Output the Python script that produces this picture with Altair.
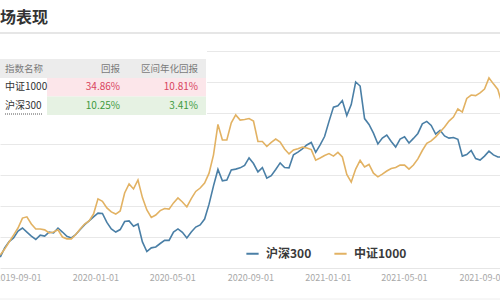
import altair as alt
import pandas as pd

FONT = "Noto Sans CJK SC"

# ---- data ----
dates = pd.date_range("2019-08-04", periods=114, freq="7D").strftime("%Y-%m-%d").tolist()

hs300 = [3.5, 6.5, 8.5, 9.7, 11.9, 12.9, 11.6, 10.3, 9.2, 10.6,
         10.3, 11.6, 11.3, 12.9, 11.6, 10.2, 9.7, 10.8, 12.4, 14.0,
         15.2, 16.5, 17.7, 17.6, 14.7, 12.6, 11.6, 12.4, 15.0, 15.2,
         13.5, 14.2, 8.4, 5.3, 6.5, 6.8, 7.9, 8.9, 8.9, 11.6,
         12.6, 11.5, 9.7, 11.6, 13.2, 13.9, 15.8, 20.6, 26.5, 31.8,
         28.1, 28.4, 31.6, 31.9, 32.3, 33.1, 35.5, 33.7, 31.0, 32.4,
         29.0, 29.8, 31.8, 33.9, 32.4, 32.3, 36.5, 37.4, 38.4, 39.7,
         40.5, 37.3, 39.7, 42.4, 47.3, 51.9, 52.3, 54.0, 49.2, 52.7,
         60.0, 58.7, 48.2, 46.3, 43.5, 40.0, 41.9, 42.9, 40.8, 39.0,
         41.6, 42.3, 40.3, 41.8, 43.4, 46.5, 47.3, 46.0, 43.2, 44.4,
         42.6, 41.9, 42.1, 41.5, 36.1, 36.6, 37.9, 35.3, 34.8, 36.1,
         37.7, 36.5, 35.8, 35.8]

zz1000 = [4.2, 6.1, 8.4, 10.6, 12.9, 16.1, 16.5, 14.2, 12.6, 12.6,
          12.3, 11.3, 11.6, 12.3, 10.0, 9.4, 9.4, 10.8, 12.6, 14.2,
          15.2, 17.4, 22.3, 21.5, 19.4, 18.1, 17.4, 18.4, 24.2, 27.1,
          25.5, 28.4, 22.7, 18.7, 16.3, 17.1, 18.5, 19.2, 19.0, 21.0,
          22.6, 21.3, 19.7, 22.4, 24.7, 25.8, 27.4, 30.6, 36.5, 46.3,
          41.3, 41.3, 46.8, 49.4, 47.7, 47.9, 48.2, 47.4, 40.8, 40.8,
          39.2, 40.5, 41.6, 40.6, 38.4, 36.8, 38.1, 38.5, 39.0, 38.7,
          38.2, 34.8, 35.5, 36.3, 36.9, 36.1, 37.3, 35.8, 30.2, 27.7,
          31.9, 34.7, 32.6, 33.4, 30.6, 29.4, 30.3, 31.3, 32.1, 32.4,
          33.2, 33.2, 31.9, 33.2, 35.2, 37.9, 40.2, 41.0, 42.3, 43.9,
          45.5, 47.4, 48.7, 51.3, 50.3, 54.7, 55.8, 55.6, 56.5, 57.7,
          61.3, 59.4, 57.6, 52.6]

series_names = ["沪深300", "中证1000"]
series_colors = ["#4a7fa6", "#e2b263"]

tick_dates = [(2019, 9), (2020, 1), (2020, 5), (2020, 9), (2021, 1), (2021, 5), (2021, 9)]

title_text = "场表现"
headers = ["指数名称", "回报", "区间年化回报"]
names = ["中证1000", "沪深300"]
total_ret = ["34.86%", "10.25%"]
ann_ret = ["10.81%", "3.41%"]

# ---- tables ----
lines_df = pd.concat([
    pd.DataFrame({"date": dates, "value": hs300, "series": series_names[0]}),
    pd.DataFrame({"date": dates, "value": zz1000, "series": series_names[1]}),
])
table_df = pd.DataFrame({"name": names, "ret": total_ret, "ann": ann_ret})
one = alt.Data(values=[{"t": title_text}])

# ---- line chart ----
x_enc = alt.X(
    "date:T",
    scale=alt.Scale(
        type="utc",
        domain=[alt.DateTime(year=2019, month=8, date=3, hours=15, utc=True),
                alt.DateTime(year=2021, month=9, date=29, hours=9, utc=True)],
    ),
    axis=alt.Axis(
        values=[alt.DateTime(year=y, month=m, date=1, utc=True) for y, m in tick_dates],
        labelExpr="utcFormat(datum.value, '%Y-%m-%d')",
        title=None, ticks=False, grid=False,
        domain=True, domainColor="#e6e6e6", labelColor="#a8a8a8", labelFontSize=9,
        labelFont=FONT, labelPadding=5, labelFlush=False, labelOverlap=False,
    ),
)
y_enc = alt.Y(
    "value:Q",
    scale=alt.Scale(domain=[0, 268 / 3.1], nice=False, zero=False),
    axis=alt.Axis(values=[10, 20, 30, 40, 50, 60, 70], labels=False, ticks=False,
                  domain=False, grid=True, gridColor="#e8e8e8", gridWidth=1, title=None),
)
lines = alt.Chart(lines_df).mark_line(strokeWidth=1.6, clip=True).encode(
    x=x_enc, y=y_enc,
    color=alt.Color(
        "series:N",
        scale=alt.Scale(domain=series_names, range=series_colors),
        sort=series_names,
        legend=alt.Legend(
            orient="none", legendX=245, legendY=246, direction="horizontal", title=None,
            symbolType="stroke", symbolStrokeWidth=2, symbolSize=150,
            labelFontSize=12, labelFont=FONT, labelColor="#3a3a3a", labelFontWeight="bold",
            columnPadding=18, padding=0, labelOffset=6,
        ),
    ),
    order=alt.Order("series:N", sort="descending"),
)

# ---- header / decorations ----
title = alt.Chart(one).mark_text(align="left", baseline="middle", fontSize=16,
                                 fontWeight="bold", font=FONT, color="#333333").encode(
    x=alt.value(0), y=alt.value(18), text="t:N")
divider = alt.Chart(one).mark_rule(color="#e6e6e6", strokeWidth=2).encode(
    x=alt.value(0), x2=alt.value(500), y=alt.value(33))
bottom = alt.Chart(one).mark_rule(color="#eeeeee", strokeWidth=1).encode(
    x=alt.value(0), x2=alt.value(500), y=alt.value(299))

# ---- table ----
white_bg = alt.Chart(one).mark_rect(color="white").encode(
    x=alt.value(0), x2=alt.value(207), y=alt.value(40), y2=alt.value(117))
header_bg = alt.Chart(one).mark_rect(color="#ececec").encode(
    x=alt.value(0), x2=alt.value(206), y=alt.value(59), y2=alt.value(78))

row_y = alt.Y("name:N", scale=alt.Scale(domain=names, range=[78, 115], paddingInner=0,
                                         paddingOuter=0), axis=None)
row_bg = alt.Chart(table_df).mark_rect().encode(
    x=alt.value(47), x2=alt.value(206), y=row_y,
    color=alt.Color("name:N", scale=alt.Scale(domain=names, range=["#fce6ea", "#e6f2e3"]),
                    legend=None),
)
hdr_df = pd.DataFrame({"h": headers})
hdr_texts = []
for i, (xx, al) in enumerate([(5, "left"), (120, "right"), (198, "right")]):
    hdr_texts.append(
        alt.Chart(hdr_df.iloc[[i]]).mark_text(align=al, baseline="middle", fontSize=9.5,
                                              font=FONT, color="#7a7a7a").encode(
            x=alt.value(xx), y=alt.value(69), text="h:N"))

name_text = alt.Chart(table_df).mark_text(align="left", baseline="middle", fontSize=10,
                                          font=FONT, color="#333333").encode(
    x=alt.value(5), y=row_y, text="name:N")
val_color = alt.Color("name:N", scale=alt.Scale(domain=names, range=["#d8445e", "#3f9a3f"]),
                      legend=None)
ret_text = alt.Chart(table_df).mark_text(align="right", baseline="middle", fontSize=10,
                                         font=FONT).encode(
    x=alt.value(120), y=row_y, text="ret:N", color=val_color)
ann_text = alt.Chart(table_df).mark_text(align="right", baseline="middle", fontSize=10,
                                         font=FONT).encode(
    x=alt.value(198), y=row_y, text="ann:N", color=val_color)
underline = alt.Chart(one).mark_rule(color="#555555", strokeWidth=1, strokeDash=[1, 1]).encode(
    x=alt.value(5), x2=alt.value(43), y=alt.value(114))

chart = alt.layer(
    lines, white_bg, header_bg, row_bg, *hdr_texts, name_text, ret_text, ann_text,
    underline, title, divider, bottom,
).resolve_scale(
    x="independent", y="independent", color="independent"
).properties(
    width=500, height=268,
    padding={"left": 0, "right": 0, "top": 0, "bottom": 32},
    autosize=alt.AutoSizeParams(type="none"),
    background="white",
).configure_view(stroke=None)

chart.save("out.html", embed_options={"renderer": "svg", "actions": False})
